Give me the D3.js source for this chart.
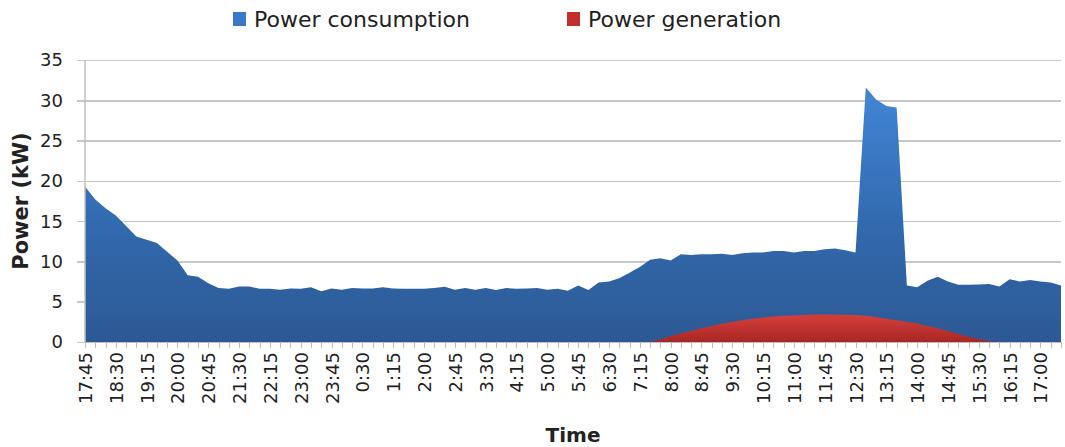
<!DOCTYPE html>
<html>
<head>
<meta charset="utf-8">
<script src="https://cdn.jsdelivr.net/npm/d3@7/dist/d3.min.js"></script>
<style>
body {
  margin: 0;
  background-color: white;
}
text {
  font-family: "DejaVu Sans", Verdana, sans-serif;
  fill: #222;
}
.grid line {
  stroke: #c8c8c8;
  stroke-width: 1.5;
  shape-rendering: crispEdges;
}
.axis path,
.axis line {
  fill: none;
  stroke: #bdbdbd;
  shape-rendering: crispEdges;
}
</style>
</head>
<body>
<script>
const times = [
  "17:45","18:00","18:15","18:30","18:45","19:00","19:15","19:30","19:45","20:00","20:15","20:30",
  "20:45","21:00","21:15","21:30","21:45","22:00","22:15","22:30","22:45","23:00","23:15","23:30",
  "23:45","0:00","0:15","0:30","0:45","1:00","1:15","1:30","1:45","2:00","2:15","2:30",
  "2:45","3:00","3:15","3:30","3:45","4:00","4:15","4:30","4:45","5:00","5:15","5:30",
  "5:45","6:00","6:15","6:30","6:45","7:00","7:15","7:30","7:45","8:00","8:15","8:30",
  "8:45","9:00","9:15","9:30","9:45","10:00","10:15","10:30","10:45","11:00","11:15","11:30",
  "11:45","12:00","12:15","12:30","12:45","13:00","13:15","13:30","13:45","14:00","14:15","14:30",
  "14:45","15:00","15:15","15:30","15:45","16:00","16:15","16:30","16:45","17:00","17:15","17:30"
];

// kW, one value per 15 minutes
const consumption = [
  19.3, 17.7, 16.6, 15.7, 14.4, 13.1, 12.7, 12.3, 11.2, 10.1, 8.3, 8.1,
  7.3, 6.7, 6.6, 6.9, 6.9, 6.6, 6.6, 6.5, 6.65, 6.6, 6.8, 6.3,
  6.65, 6.5, 6.7, 6.65, 6.65, 6.8, 6.65, 6.6, 6.6, 6.6, 6.7, 6.85,
  6.5, 6.7, 6.5, 6.7, 6.45, 6.7, 6.6, 6.65, 6.7, 6.5, 6.6, 6.35,
  7.0, 6.45, 7.4, 7.5, 7.9, 8.6, 9.3, 10.2, 10.4, 10.1, 10.9, 10.8,
  10.9, 10.9, 10.95, 10.8, 11.0, 11.1, 11.1, 11.3, 11.3, 11.1, 11.3, 11.3,
  11.5, 11.6, 11.4, 11.1, 31.6, 30.1, 29.3, 29.1, 7.0, 6.8, 7.6, 8.1,
  7.5, 7.1, 7.1, 7.15, 7.2, 6.9, 7.8, 7.5, 7.7, 7.5, 7.4, 7.0
];

const generation = [
  0, 0, 0, 0, 0, 0, 0, 0, 0, 0, 0, 0,
  0, 0, 0, 0, 0, 0, 0, 0, 0, 0, 0, 0,
  0, 0, 0, 0, 0, 0, 0, 0, 0, 0, 0, 0,
  0, 0, 0, 0, 0, 0, 0, 0, 0, 0, 0, 0,
  0, 0, 0, 0, 0, 0, 0, 0, 0.3, 0.7, 1.05, 1.4,
  1.7, 2.0, 2.25, 2.5, 2.7, 2.9, 3.05, 3.15, 3.25, 3.3, 3.35, 3.4,
  3.4, 3.4, 3.38, 3.35, 3.25, 3.1, 2.9, 2.7, 2.5, 2.3, 2.0, 1.7,
  1.35, 1.0, 0.65, 0.35, 0.1, 0, 0, 0, 0, 0, 0, 0
];

const yTicks = [0, 5, 10, 15, 20, 25, 30, 35];
const seriesNames = ["Power consumption", "Power generation"];

const svg = d3.select("body")
              .append("svg")
              .attr("width", 1065)
              .attr("height", 447);

const margin = {top: 60, right: 4, bottom: 105, left: 85};
const width = 1065 - margin.left - margin.right;
const height = 447 - margin.top - margin.bottom;

const g = svg.append("g")
             .attr("transform", `translate(${margin.left}, ${margin.top})`);

const xScale = d3.scalePoint()
                 .domain(times)
                 .range([0, width]);

const yScale = d3.scaleLinear()
                 .domain([0, 35])
                 .range([height, 0]);

const defs = svg.append("defs");
const blueGrad = defs.append("linearGradient")
                     .attr("id", "blueGrad")
                     .attr("x1", 0).attr("y1", 0).attr("x2", 0).attr("y2", 1);
blueGrad.append("stop").attr("offset", "0%").attr("stop-color", "#4186d6");
blueGrad.append("stop").attr("offset", "55%").attr("stop-color", "#3269ad");
blueGrad.append("stop").attr("offset", "100%").attr("stop-color", "#2c5994");

const redGrad = defs.append("linearGradient")
                    .attr("id", "redGrad")
                    .attr("x1", 0).attr("y1", 0).attr("x2", 0).attr("y2", 1);
redGrad.append("stop").attr("offset", "0%").attr("stop-color", "#d43f3b");
redGrad.append("stop").attr("offset", "100%").attr("stop-color", "#a82726");

// horizontal gridlines (they stick out a little to the left like tick marks)
g.append("g")
 .attr("class", "grid")
 .call(d3.axisLeft(yScale).tickValues(yTicks).tickSize(-width - 8).tickFormat(""))
 .attr("transform", "translate(-8,0)")
 .call(s => s.select(".domain").remove());

const area = d3.area()
               .x((d, i) => xScale(times[i]))
               .y0(yScale(0))
               .y1(d => yScale(d));

g.append("path")
 .datum(consumption)
 .attr("fill", "url(#blueGrad)")
 .attr("d", area);

g.append("path")
 .datum(generation)
 .attr("fill", "url(#redGrad)")
 .attr("d", area);

// vertical axis line
g.append("line")
 .attr("x1", 0).attr("x2", 0)
 .attr("y1", 0).attr("y2", height)
 .attr("stroke", "#c0c0c0")
 .attr("stroke-width", 1.5);

// y tick labels
g.append("g")
 .selectAll("text")
 .data(yTicks)
 .join("text")
 .attr("x", -22)
 .attr("y", d => yScale(d))
 .attr("dy", "0.36em")
 .attr("text-anchor", "end")
 .attr("font-size", 18)
 .text(d => d);

// x axis: tick at every category, label every third one
const xAxis = d3.axisBottom(xScale)
                .tickSize(6)
                .tickSizeOuter(0)
                .tickFormat((d, i) => i % 3 === 0 ? d : "");

const xg = g.append("g")
            .attr("class", "axis")
            .attr("transform", `translate(0, ${height})`)
            .call(xAxis);

xg.selectAll("text")
  .attr("font-size", 18)
  .attr("fill", "#222")
  .attr("transform", "rotate(-90)")
  .attr("text-anchor", "end")
  .attr("x", -10)
  .attr("y", 0)
  .attr("dy", "0.36em");

// axis titles
svg.append("text")
   .attr("transform", `translate(28, ${margin.top + height / 2}) rotate(-90)`)
   .attr("text-anchor", "middle")
   .attr("font-size", 21)
   .attr("font-weight", "bold")
   .text("Power (kW)");

svg.append("text")
   .attr("x", margin.left + width / 2)
   .attr("y", 442)
   .attr("text-anchor", "middle")
   .attr("font-size", 20)
   .attr("font-weight", "bold")
   .text("Time");

// legend
const legend = svg.append("g");
const legendX = [233, 567];
const legendColors = ["#3a78c8", "#c2302d"];
seriesNames.forEach((name, i) => {
  legend.append("rect")
        .attr("x", legendX[i]).attr("y", 12)
        .attr("width", 13).attr("height", 14)
        .attr("fill", legendColors[i]);
  legend.append("text")
        .attr("x", legendX[i] + 21)
        .attr("y", 27)
        .attr("font-size", 22)
        .text(name);
});
</script>
</body>
</html>
